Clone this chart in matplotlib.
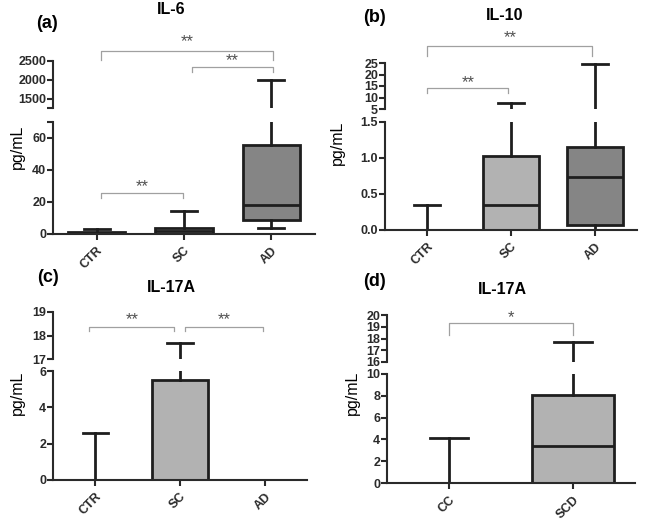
import matplotlib
matplotlib.use("Agg")
import matplotlib.pyplot as plt

plt.rcParams['font.family'] = ['Liberation Sans', 'DejaVu Sans']
plt.rcParams['font.weight'] = 'bold'

W, H = 645, 532

# ---- data ----
a_groups = ['CTR', 'SC', 'AD']
a_whislo = [0, 0, 4]
a_q1 = [0.3, 0, 8.5]
a_med = [0.8, 2, 18]
a_q3 = [1.2, 3.5, 55.5]
a_whishi = [3.2, 14.5, 2000]

b_groups = ['CTR', 'SC', 'AD']
b_whislo = [0, 0, 0]
b_q1 = [0, 0, 0.07]
b_med = [0, 0.35, 0.74]
b_q3 = [0, 1.03, 1.15]
b_whishi = [0.35, 7.5, 24.5]

c_groups = ['CTR', 'SC', 'AD']
c_whislo = [0, 0, 0]
c_q1 = [0, 0, 0]
c_med = [0, 0, 0]
c_q3 = [0, 5.5, 0]
c_whishi = [2.6, 17.7, 0]

d_groups = ['CC', 'SCD']
d_whislo = [0, 0]
d_q1 = [0, 0]
d_med = [0, 3.4]
d_q3 = [0, 8.1]
d_whishi = [4.1, 17.7]

fills = {'CTR': 'white', 'CC': 'white', 'SC': '#b2b2b2', 'SCD': '#b2b2b2', 'AD': '#858585'}
dark = '#1e1e1e'

fig = plt.figure(figsize=(W / 100, H / 100), dpi=100)


def px_axes(x0, y0, x1, y1):
    return fig.add_axes([x0 / W, 1 - y1 / H, (x1 - x0) / W, (y1 - y0) / H])


def ftext(x, y, s, **kw):
    fig.text(x / W, 1 - y / H, s, **kw)


def style(ax, ticks, labels, lim, bottom):
    ax.set_ylim(lim)
    ax.set_yticks(ticks)
    ax.set_yticklabels(labels)
    for s in ['top', 'right']:
        ax.spines[s].set_visible(False)
    for s in ['left', 'bottom']:
        ax.spines[s].set_linewidth(1.5)
        ax.spines[s].set_color('#2a2a2a')
    ax.tick_params(axis='y', direction='out', length=4, width=1.5, labelsize=9,
                   pad=1, colors='#2a2a2a')
    ax.tick_params(axis='x', direction='out', length=4, width=1.5, labelsize=9,
                   colors='#2a2a2a')
    ax.patch.set_alpha(0)
    if not bottom:
        ax.spines['bottom'].set_visible(False)
        ax.set_xticks([])


def panel(box_lo, box_hi, groups, whislo, q1, med, q3, whishi,
          lo_ticks, lo_labels, lo_lim, hi_ticks, hi_labels, hi_lim):
    stats = []
    for i, g in enumerate(groups):
        stats.append(dict(label=g, whislo=whislo[i], q1=q1[i], med=med[i],
                          q3=q3[i], whishi=whishi[i], fliers=[]))
    xlim = (-0.5, len(groups) - 0.5)
    axes = []
    for box, ticks, labels, lim, bottom in [(box_lo, lo_ticks, lo_labels, lo_lim, True),
                                            (box_hi, hi_ticks, hi_labels, hi_lim, False)]:
        ax = px_axes(*box)
        lw = 2.0
        bp = ax.bxp(stats, positions=range(len(groups)), widths=0.66, capwidths=0.3,
                    patch_artist=True, showfliers=False,
                    boxprops=dict(linewidth=lw, edgecolor=dark),
                    whiskerprops=dict(linewidth=lw, color=dark),
                    capprops=dict(linewidth=lw, color=dark),
                    medianprops=dict(linewidth=lw, color=dark))
        for patch, g in zip(bp['boxes'], groups):
            patch.set_facecolor(fills[g])
        ax.set_xlim(xlim)
        style(ax, ticks, labels, lim, bottom)
        if bottom:
            ax.set_xticks(range(len(groups)))
            ax.set_xticklabels(groups, rotation=45, ha='right', rotation_mode='anchor')
        axes.append(ax)
    return axes


def bracket(ax, x1, x2, y, drop, label, ty):
    ax.plot([x1, x1, x2, x2], [y - drop, y, y, y - drop], color='#a0a0a0',
            lw=0.9, clip_on=False)
    ax.text((x1 + x2) / 2, ty, label, ha='center', va='center', fontsize=12,
            fontweight='normal', color='#505050')


# (a) IL-6
a_lo, a_hi = panel((53, 122, 315, 234), (53, 61, 315, 108), a_groups,
                   a_whislo, a_q1, a_med, a_q3, a_whishi,
                   [0, 20, 40, 60, 70], ['0', '20', '40', '60', ''], (0, 70),
                   [1250, 1500, 2000, 2500], ['', '1500', '2000', '2500'], (1250, 2500))
bracket(a_hi, 0.05, 2.02, 2766, 240, '**', 3010)
bracket(a_hi, 1.09, 2.02, 2340, 130, '**', 2500)
bracket(a_lo, 0.05, 0.99, 25.6, 3, '**', 29.5)
ftext(171, 10, 'IL-6', ha='center', va='center', fontsize=11.5)
ftext(47, 23, '(a)', ha='center', va='center', fontsize=13)
ftext(17, 147, 'pg/mL', ha='center', va='center', rotation=90, fontsize=11.5,
      fontweight='normal')

# (b) IL-10
b_lo, b_hi = panel((385, 122, 637, 230), (385, 63, 637, 109), b_groups,
                   b_whislo, b_q1, b_med, b_q3, b_whishi,
                   [0, 0.5, 1.0, 1.5], ['0.0', '0.5', '1.0', '1.5'], (0, 1.5),
                   [5, 10, 15, 20, 25], ['5', '10', '15', '20', '25'], (5, 25))
bracket(b_hi, 0.0, 1.97, 32.4, 4.3, '**', 36.0)
bracket(b_hi, 0.0, 0.97, 14.1, 2.2, '**', 16.6)
ftext(505, 15, 'IL-10', ha='center', va='center', fontsize=11.5)
ftext(375, 17, '(b)', ha='center', va='center', fontsize=13)
ftext(337, 143, 'pg/mL', ha='center', va='center', rotation=90, fontsize=11.5,
      fontweight='normal')

# (c) IL-17A
c_lo, c_hi = panel((53, 371, 307, 480), (53, 312, 307, 359), c_groups,
                   c_whislo, c_q1, c_med, c_q3, c_whishi,
                   [0, 2, 4, 6], ['0', '2', '4', '6'], (0, 6),
                   [17, 18, 19], ['17', '18', '19'], (17, 19))
bracket(c_hi, -0.07, 0.93, 18.36, 0.17, '**', 18.68)
bracket(c_hi, 1.06, 1.98, 18.36, 0.17, '**', 18.68)
ftext(171, 287, 'IL-17A', ha='center', va='center', fontsize=11.5)
ftext(48, 278, '(c)', ha='center', va='center', fontsize=13)
ftext(17, 393, 'pg/mL', ha='center', va='center', rotation=90, fontsize=11.5,
      fontweight='normal')

# (d) IL-17A
d_lo, d_hi = panel((387, 374, 635, 483), (387, 315, 635, 362), d_groups,
                   d_whislo, d_q1, d_med, d_q3, d_whishi,
                   [0, 2, 4, 6, 8, 10], ['0', '2', '4', '6', '8', '10'], (0, 10),
                   [16, 17, 18, 19, 20], ['16', '17', '18', '19', '20'], (16, 20))
bracket(d_hi, 0.0, 1.0, 19.3, 1.0, '*', 19.75)
ftext(502, 290, 'IL-17A', ha='center', va='center', fontsize=11.5)
ftext(375, 282, '(d)', ha='center', va='center', fontsize=13)
ftext(352, 393, 'pg/mL', ha='center', va='center', rotation=90, fontsize=11.5,
      fontweight='normal')

fig.savefig('out.png', dpi=100)
